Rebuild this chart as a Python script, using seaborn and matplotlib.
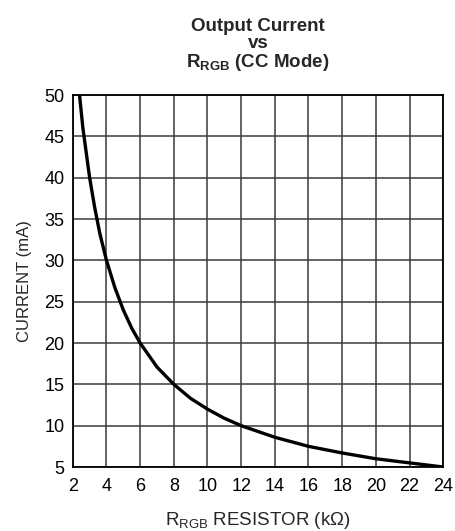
#!/usr/bin/env python3
import matplotlib
matplotlib.use("Agg")
import matplotlib.pyplot as plt
import seaborn as sns
import numpy as np

# values
resistance_kohm = [2.4, 2.6, 2.8, 3.0, 3.3, 3.6, 4.0, 4.5, 5.0, 5.5, 6.0, 7.0,
                   8.0, 9.0, 10.0, 11.0, 12.0, 14.0, 16.0, 18.0, 20.0, 22.0, 24.0]
current_ma = [50.0, 46.0, 43.0, 40.0, 36.4, 33.3, 30.0, 26.7, 24.0, 21.8, 20.0, 17.1,
              15.0, 13.3, 12.0, 10.9, 10.0, 8.6, 7.5, 6.7, 6.0, 5.5, 5.0]
x_ticks = list(range(2, 25, 2))
y_ticks = list(range(5, 51, 5))

sns.set_style("white")
plt.rcParams['font.family'] = ['Liberation Sans', 'DejaVu Sans']
plt.rcParams['mathtext.fontset'] = 'custom'
plt.rcParams['mathtext.rm'] = 'Liberation Sans'
plt.rcParams['mathtext.bf'] = 'Liberation Sans:bold'

fig = plt.figure(figsize=(4.55, 5.31), dpi=100)
ax = fig.add_axes([0.160, 0.1205, 0.814, 0.7005])

sns.lineplot(x=resistance_kohm, y=current_ma, color='black', linewidth=2.4, ax=ax)

ax.set_xlim(2, 24)
ax.set_ylim(5, 50)
ax.set_xticks(x_ticks)
ax.set_yticks(y_ticks)
ax.grid(True, color='#3a3a3a', linewidth=1.1)
ax.set_axisbelow(True)
for s in ax.spines.values():
    s.set_color('black')
    s.set_linewidth(1.3)
ax.tick_params(axis='both', length=0, labelsize=13, colors='black')
ax.tick_params(axis='x', pad=8)
ax.tick_params(axis='y', pad=6)

ax.set_xlabel(r'R$_{\mathrm{RGB}}$ RESISTOR (k$\Omega$)', fontsize=13.5, labelpad=11)
ax.set_ylabel('CURRENT (mA)', fontsize=12, labelpad=9)
ax.set_title('Output Current\nvs\n' + r'$\mathbf{R_{RGB}}$ (CC Mode)',
             fontsize=13.5, fontweight='bold', linespacing=1.0, pad=20)

fig.savefig('out.png', dpi=100)
